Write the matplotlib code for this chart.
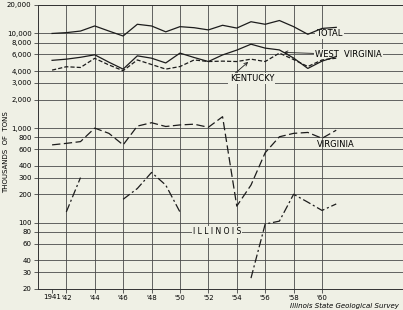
import numpy as np
import matplotlib
matplotlib.use("Agg")
from matplotlib import pyplot as plt

# coal production, thousands of tons
years = list(range(1941, 1962))
total = [10000, 10200, 10600, 12000, 10600, 9400, 12500, 12000, 10400, 11800, 11500,
         10900, 12200, 11400, 13300, 12500, 13700, 11800, 9800, 11300, 11600]
west_virginia = [5200, 5350, 5600, 5950, 4970, 4200, 5800, 5480, 4880, 6200, 5570,
                 5050, 5930, 6670, 7700, 7000, 6700, 5500, 4270, 5100, 5700]
kentucky = [4100, 4450, 4370, 5460, 4650, 4040, 5250, 4700, 4200, 4470, 5250,
            5050, 5100, 5050, 5350, 5050, 6200, 5300, 4470, 5250, 5480]
virginia = [665, 690, 720, 1000, 880, 665, 1050, 1140, 1040, 1080, 1100,
            1020, 1320, 150, 250, 550, 810, 880, 900, 780, 950]
illinois = [np.nan, 130, 300, np.nan, np.nan, 177, 230, 340, 250, 130, np.nan,
            np.nan, np.nan, np.nan, 26, 97, 104, 200, 165, 135, 158]

ytick_vals = [20, 30, 40, 60, 80, 100, 200, 300, 400, 600, 800,
              1000, 2000, 3000, 4000, 6000, 8000, 10000, 20000]
ytick_labels = ["20", "30", "40", "60", "80", "100", "200", "300", "400", "600", "800",
                "1,000", "2,000", "3,000", "4,000", "6,000", "8,000", "10,000", "20,000"]
xtick_vals = list(range(1942, 1961, 2))
xtick_labels = ["'" + str(y)[2:] for y in xtick_vals]

bg = '#eff0e5'
ink = '#1c1c1c'
plt.rcParams['lines.scale_dashes'] = False

fig = plt.figure(figsize=(4.03, 3.10), dpi=100, facecolor=bg)
ax = fig.add_axes([0.094, 0.068, 0.906, 0.916], facecolor=bg)

ax.set_yscale('log')
ax.set_ylim(20, 20000)
ax.set_xlim(1940.0, 1965.7)

ax.set_yticks(ytick_vals)
ax.set_yticklabels(ytick_labels, fontsize=5)
ax.yaxis.set_minor_locator(matplotlib.ticker.NullLocator())
ax.set_xticks(xtick_vals)
ax.set_xticklabels(xtick_labels, fontsize=5)
ax.set_xticks([1941], labels=["1941"], minor=True)
ax.tick_params(axis='x', which='minor', labelsize=5, length=3, width=0.6, color='#444', pad=1)
ax.tick_params(axis='both', which='major', length=3, width=0.6, color='#444', pad=1.5)

ax.grid(True, which='major', color='#4a4a4a', lw=0.6)
ax.spines['right'].set_visible(False)
for side in ['left', 'bottom', 'top']:
    ax.spines[side].set_color('#333')
    ax.spines[side].set_linewidth(0.7)

lw = 0.9
ax.plot(years, total, color=ink, lw=lw, zorder=4)
ax.plot(years, west_virginia, color=ink, lw=lw, zorder=4)
ax.plot(years, kentucky, color=ink, lw=lw, ls=(0, (3, 1.5)), zorder=4)
ax.plot(years, virginia, color=ink, lw=lw, ls=(0, (6, 2.5)), zorder=4)
ax.plot(years, illinois, color=ink, lw=lw, ls=(0, (6, 2, 1.5, 2)), zorder=4)

box = dict(boxstyle='square,pad=0.15', fc=bg, ec='none')
ax.text(1959.6, 10000, "TOTAL", fontsize=6, va='center', ha='left', bbox=box, zorder=3)
ax.annotate("WEST  VIRGINIA", xy=(1957.3, 6300), xytext=(1959.5, 6000),
            fontsize=6, va='center', ha='left', bbox=box, zorder=3,
            arrowprops=dict(arrowstyle='->', lw=0.6, color=ink, shrinkA=0, shrinkB=0))
ax.annotate("KENTUCKY", xy=(1954.8, 5000), xytext=(1953.5, 3330),
            fontsize=6, va='center', ha='left', bbox=box, zorder=3,
            arrowprops=dict(arrowstyle='->', lw=0.6, color=ink, shrinkA=0, shrinkB=0,
                            relpos=(0.1, 1.0)))
ax.text(1959.65, 676, "VIRGINIA", fontsize=6, va='center', ha='left', zorder=3)
ax.text(1950.9, 80, "I L L I N O I S", fontsize=5.5, va='center', ha='left', bbox=box, zorder=3)

fig.text(0.014, 0.51, "THOUSANDS  OF  TONS", rotation=90, fontsize=5, ha='center', va='center')
fig.text(0.99, 0.012, "Illinois State Geological Survey", style='italic', fontsize=5,
         ha='right', va='center')

fig.savefig("out.png", dpi=100, facecolor=bg)
